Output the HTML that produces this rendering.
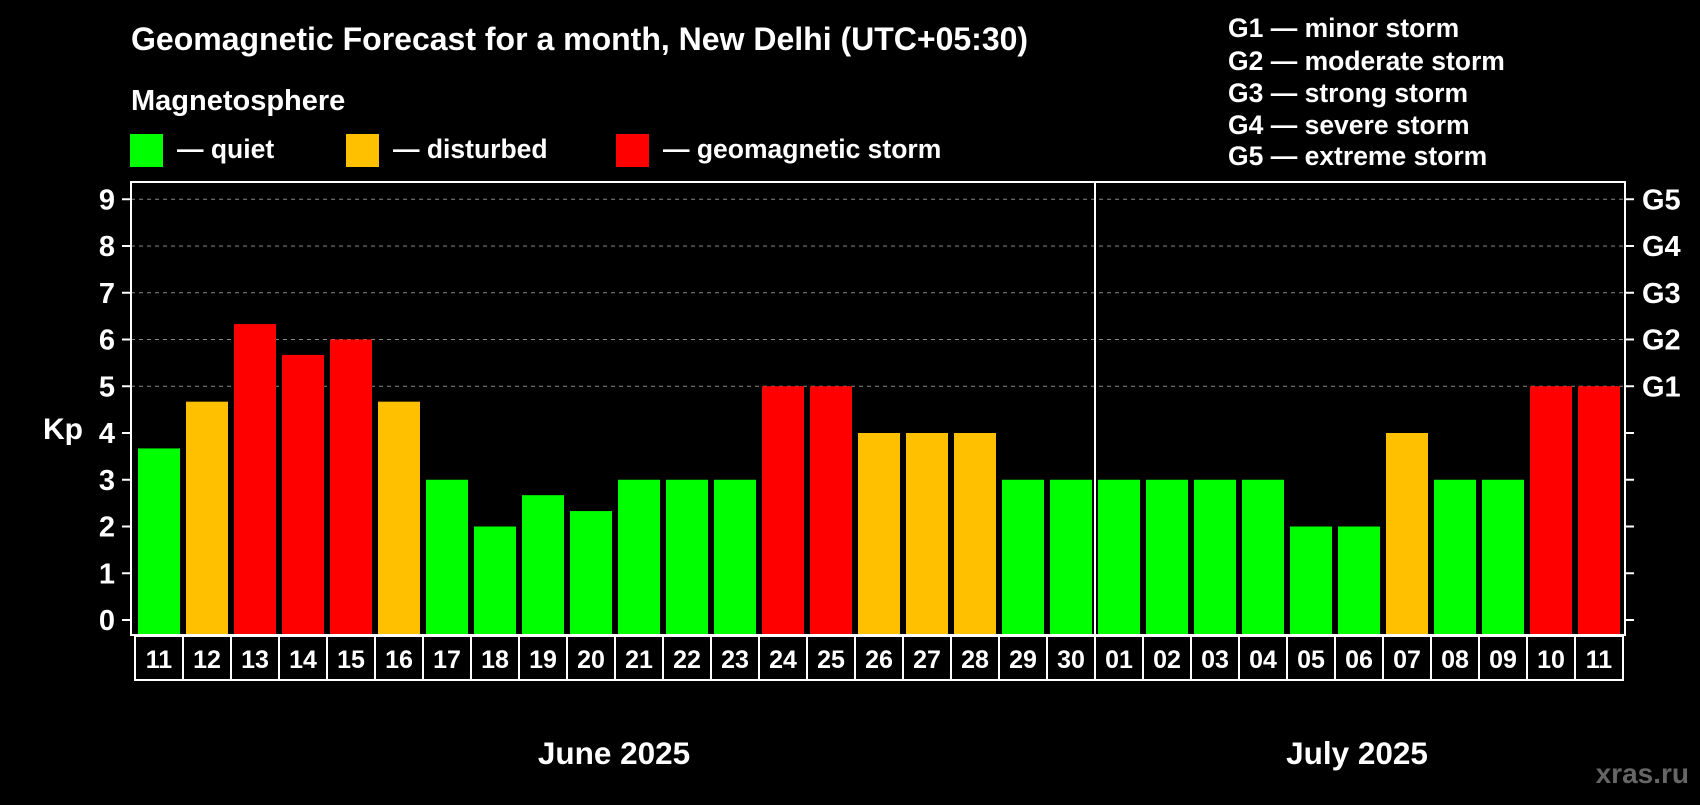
<!DOCTYPE html>
<html><head><meta charset="utf-8"><style>
body{margin:0;background:#000;width:1700px;height:800px;overflow:hidden;font-family:"Liberation Sans",sans-serif;font-weight:bold;color:#fff}
svg text{font-family:"Liberation Sans",sans-serif;font-weight:bold;fill:#fff}
</style></head><body>
<svg id="chart" width="1700" height="800" xmlns="http://www.w3.org/2000/svg">
<text x="131" y="50" font-size="32">Geomagnetic Forecast for a month, New Delhi (UTC+05:30)</text>
<text x="131" y="110" font-size="29">Magnetosphere</text>
<g><rect x="130" y="134" width="33" height="33" fill="#00ff00"/><text x="177" y="158" font-size="26.5">— quiet</text></g>
<g><rect x="346" y="134" width="33" height="33" fill="#ffc000"/><text x="393" y="158" font-size="26.5">— disturbed</text></g>
<g><rect x="616" y="134" width="33" height="33" fill="#ff0000"/><text x="663" y="158" font-size="26.5">— geomagnetic storm</text></g>
<g font-size="26.5">
<text x="1228" y="37">G1 — minor storm</text>
<text x="1228" y="70">G2 — moderate storm</text>
<text x="1228" y="102">G3 — strong storm</text>
<text x="1228" y="134">G4 — severe storm</text>
<text x="1228" y="165">G5 — extreme storm</text>
</g>
<g id="grid"></g><g id="bars"></g>
<rect x="131" y="182" width="1494" height="453" fill="none" stroke="#fff" stroke-width="2"/>
<line x1="1095" y1="182" x2="1095" y2="635" stroke="#fff" stroke-width="2"/>
<g id="axes"></g><g id="dates"></g>
<text x="63" y="439" font-size="30" text-anchor="middle">Kp</text>
<text x="614" y="764" font-size="31.5" text-anchor="middle">June 2025</text>
<text x="1357" y="764" font-size="31.5" text-anchor="middle">July 2025</text>
<text x="1689" y="783" font-size="28" text-anchor="end" style="fill:#666">xras.ru</text>
</svg>
<script>
const days=["11","12","13","14","15","16","17","18","19","20","21","22","23","24","25","26","27","28","29","30","01","02","03","04","05","06","07","08","09","10","11"];
const kp=[3.67,4.67,6.33,5.67,6,4.67,3,2,2.67,2.33,3,3,3,5,5,4,4,4,3,3,3,3,3,3,2,2,4,3,3,5,5];
const yTicks=[0,1,2,3,4,5,6,7,8,9];
const gLabels=["G1","G2","G3","G4","G5"];
const NS="http://www.w3.org/2000/svg";
const y=v=>620-v*46.75;
const slot=i=>135+48*i;
function mk(t,a,p){const e=document.createElementNS(NS,t);for(const k in a)e.setAttribute(k,a[k]);p.appendChild(e);return e;}
const grid=document.getElementById('grid'),bars=document.getElementById('bars'),axes=document.getElementById('axes'),dates=document.getElementById('dates');
yTicks.forEach(v=>{
 if(v>=5){const l=mk('line',{x1:131,x2:1625,y1:y(v),y2:y(v),stroke:'#888','stroke-dasharray':'4,4','stroke-width':1},grid);
 
 }
 mk('line',{x1:122,x2:131,y1:y(v),y2:y(v),stroke:'#fff','stroke-width':2},axes);
 mk('line',{x1:1625,x2:1634,y1:y(v),y2:y(v),stroke:'#fff','stroke-width':2},axes);
 const t=mk('text',{x:115,y:y(v)+10,'font-size':29,'text-anchor':'end'},axes);t.textContent=v;
 
 
 if(v>=5){const g=mk('text',{x:1642,y:y(v)+10,'font-size':29},axes);g.textContent=gLabels[v-5];
 
 }
});
kp.forEach((v,i)=>{
 const c=v>=5?'#ff0000':(v>=4?'#ffc000':'#00ff00');
 const r=mk('rect',{x:slot(i)+3,y:y(v),width:42,height:y(0)-y(v)+14,fill:c},bars);
 
 
 const b=mk('rect',{x:slot(i),y:636,width:48,height:44,fill:'none',stroke:'#fff','stroke-width':2},dates);
 
 
 const t=mk('text',{x:slot(i)+24,y:668,'font-size':25,'text-anchor':'middle'},dates);t.textContent=days[i];
 
 
});
</script>
</body></html>
